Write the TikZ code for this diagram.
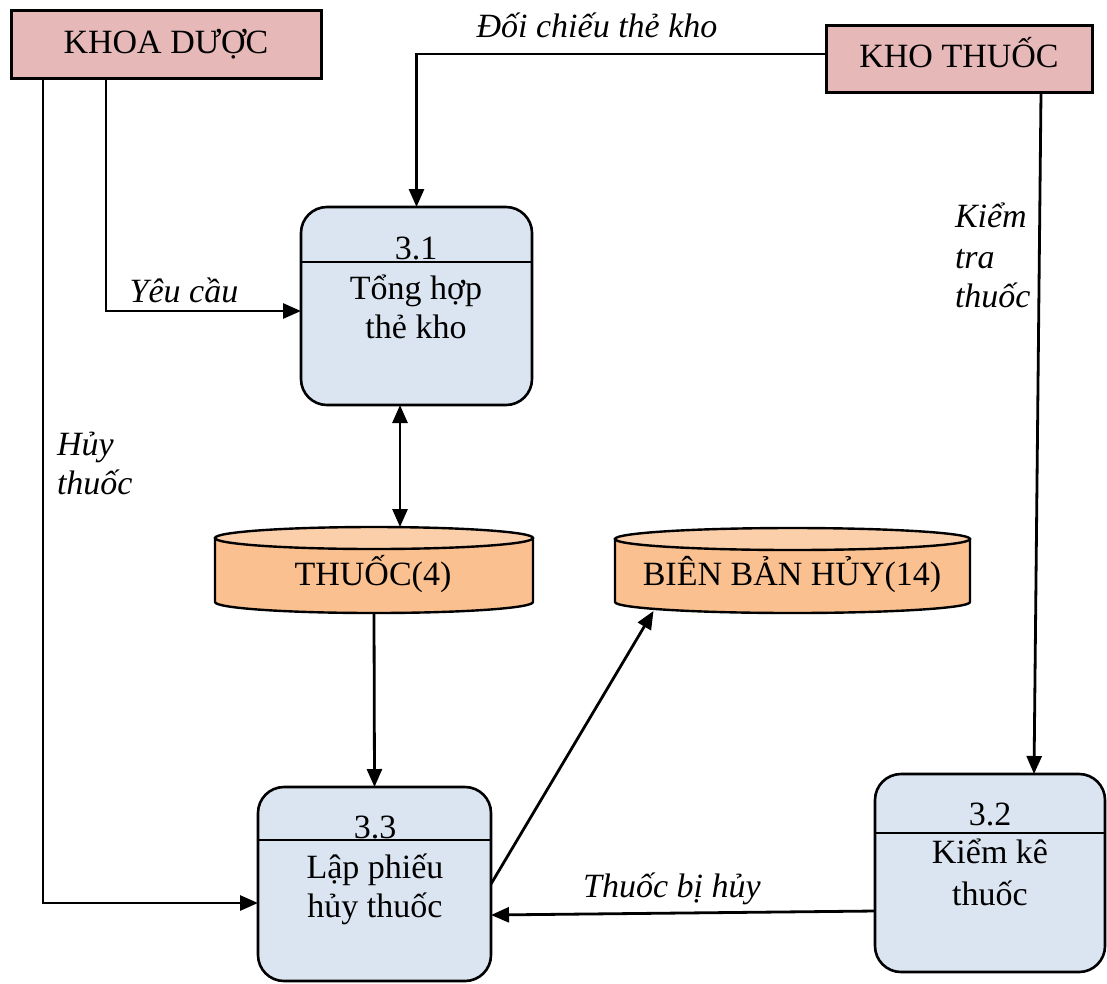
\documentclass[tikz,border=0pt]{standalone}
\usepackage{fontspec}
\setmainfont{Liberation Serif}
\usetikzlibrary{arrows.meta,calc}
\definecolor{entityfill}{RGB}{230,184,183}
\definecolor{procfill}{RGB}{219,229,241}
\definecolor{storefill}{RGB}{250,192,143}
\definecolor{storetop}{RGB}{251,207,170}
\begin{document}
\begin{tikzpicture}[x=1pt,y=-1pt,
  every node/.style={font=\fontsize{34}{40}\selectfont, inner sep=0pt, outer sep=0pt},
  entity/.style={draw, line width=3pt, fill=entityfill, text height=18pt, text depth=0pt},
  proc/.style={draw, line width=2.6pt, fill=procfill, rounded corners=26pt},
  divider/.style={line width=2.6pt},
  storeshape/.style={draw, line width=2.4pt},
  txt/.style={anchor=base},
  flowlbl/.style={anchor=base, font=\fontsize{34}{40}\selectfont\itshape},
  flow/.style={line width=2.8pt, -{Triangle[length=18pt,width=15pt]}},
  dflow/.style={line width=2.8pt, {Triangle[length=18pt,width=15pt]}-{Triangle[length=18pt,width=15pt]}},
]
\useasboundingbox (0,0) rectangle (1107,983);

% external entities
\node[entity, minimum width=310pt, minimum height=68pt] (kd) at (166,44) {KHOA DƯỢC};
\node[entity, minimum width=266pt, minimum height=67pt] (kt) at (959,58.5) {KHO THUỐC};

% processes
\node[proc, minimum width=231pt, minimum height=198pt] (p31) at (416.5,306) {};
\node[proc, minimum width=233pt, minimum height=194pt] (p33) at (374.5,884) {};
\node[proc, minimum width=230pt, minimum height=198pt] (p32) at (990,873) {};
\coordinate (s31) at (0,262);
\coordinate (s33) at (0,840);
\coordinate (s32) at (0,833);
\draw[divider] (p31.west |- s31) -- (p31.east |- s31);
\draw[divider] (p33.west |- s33) -- (p33.east |- s33);
\draw[divider] (p32.west |- s32) -- (p32.east |- s32);

\node[txt] (p31n) at (416,259) {3.1};
\node[txt] (p31a) at (416,299) {Tổng hợp};
\node[txt] (p31b) at (416,338) {thẻ kho};
\node[txt] (p33n) at (375,838) {3.3};
\node[txt] (p33a) at (375,878) {Lập phiếu};
\node[txt] (p33b) at (375,917) {hủy thuốc};
\node[txt] (p32n) at (990,825) {3.2};
\node[txt] (p32a) at (990,863) {Kiểm kê};
\node[txt] (p32b) at (990,905) {thuốc};

% data stores
\node[minimum width=318pt, minimum height=86pt] (d4) at (374,570) {};
\node[minimum width=355pt, minimum height=85pt] (d14) at (792.5,570.5) {};
\path[storeshape, fill=storefill] ($(d4.north west)+(0,11)$) -- ($(d4.south west)+(0,-11)$)
  arc[start angle=180, end angle=0, x radius=159, y radius=11]
  -- ($(d4.north east)+(0,11)$) -- cycle;
\draw[storeshape, fill=storetop] ($(d4.north)+(0,11)$) ellipse[x radius=159, y radius=11];
\path[storeshape, fill=storefill] ($(d14.north west)+(0,11)$) -- ($(d14.south west)+(0,-11)$)
  arc[start angle=180, end angle=0, x radius=177.5, y radius=11]
  -- ($(d14.north east)+(0,11)$) -- cycle;
\draw[storeshape, fill=storetop] ($(d14.north)+(0,11)$) ellipse[x radius=177.5, y radius=11];
\node[txt] (d4t) at (373,585) {THUỐC(4)};
\node[txt] (d14t) at (792,585) {BIÊN BẢN HỦY(14)};

% data flows
\draw[flow] ($(kd.south)+(-123,0)$) |- ($(p33.west)+(0,19)$);
\draw[flow] ($(kd.south)+(-60,0)$) |- ($(p31.west)+(0,5)$);
\draw[flow] ($(kt.west)+(0,-4.5)$) -| (p31.north);
\draw[flow] ($(kt.south)+(82,0)$) -- ($(p32.north)+(44,0)$);
\draw[dflow] ($(p31.south)+(-16.5,0)$) -- ($(d4.north)+(26,0)$);
\draw[flow] (d4.south) -- (p33.north);
\draw[flow] (p33.east) -- ($(d14.south)+(-139,-2)$);
\draw[flow] ($(p32.west)+(0,38)$) -- ($(p33.east)+(0,31)$);

% flow labels
\node[flowlbl] (l1) at (597,37) {Đối chiếu thẻ kho};
\node[flowlbl] (l2) at (184,302) {Yêu cầu};
\node[flowlbl, anchor=base west] (l3a) at (57,455) {Hủy};
\node[flowlbl, anchor=base west] (l3b) at (57,494) {thuốc};
\node[flowlbl, anchor=base west] (l4a) at (955,227) {Kiểm};
\node[flowlbl, anchor=base west] (l4b) at (955,268) {tra};
\node[flowlbl, anchor=base west] (l4c) at (955,307) {thuốc};
\node[flowlbl] (l5) at (672,897) {Thuốc bị hủy};
\end{tikzpicture}
\end{document}
